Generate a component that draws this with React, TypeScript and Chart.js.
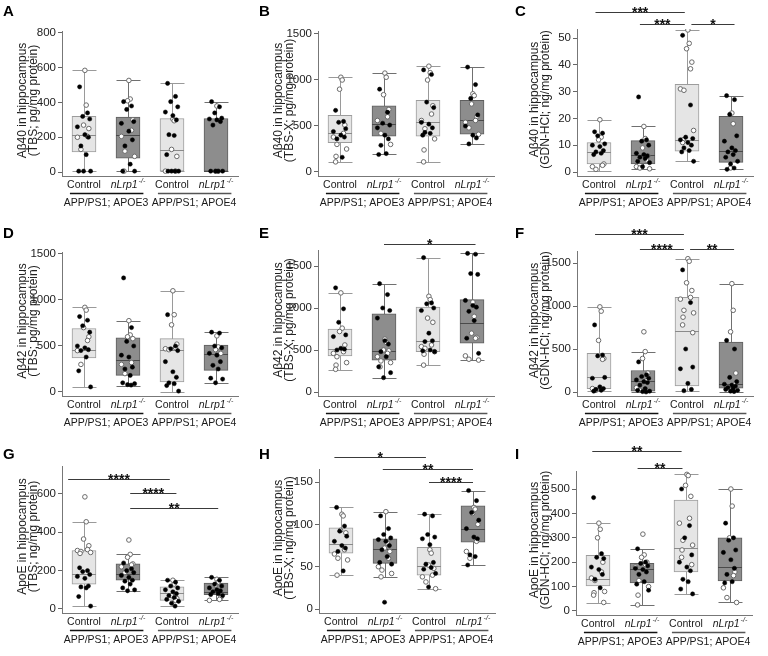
import React, { useEffect, useRef } from 'react';
import { Chart, registerables } from 'chart.js';
Chart.register(...registerables);

const FONT = '"Liberation Sans", Arial, Helvetica, sans-serif';
Chart.defaults.font.family = FONT;

// Categories
const GROUPS = ['Control', 'nLrp1', 'Control', 'nLrp1'];
const GENOTYPES = ['APP/PS1; APOE3', 'APP/PS1; APOE4'];

// Box stats per group: [min, q1, median, q3, max]
// ---------- Panel A ----------
const A_TICKS = [0, 200, 400, 600, 800];
const A_BOX = [[5, 115, 215, 320, 585], [5, 80, 213, 316, 527], [5, 5, 125, 308, 512], [5, 5, 8, 308, 405]];
const A_FILLED = [
  [490, 340, 320, 305, 260, 215, 200, 150, 100, 5, 5, 5],
  [405, 380, 360, 290, 280, 235, 185, 150, 45, 5, 5],
  [510, 435, 405, 375, 345, 325, 300, 215, 210, 100, 5, 5, 5, 5],
  [405, 375, 340, 310, 305, 300, 290, 270, 5, 5, 5, 5],
];
const A_OPEN = [
  [585, 385, 270, 250, 205, 200, 130],
  [527, 420, 410, 300, 240, 205, 120, 90, 5],
  [305, 295, 130, 90, 5, 5],
  [380, 5, 5],
];
const A_SIG: [number, number, number, string][] = [];

// ---------- Panel B ----------
const B_TICKS = [0, 500, 1000, 1500];
const B_BOX = [[110, 320, 420, 615, 1035], [195, 390, 520, 720, 1075], [110, 390, 545, 780, 1150], [305, 410, 560, 780, 1140]];
const B_FILLED = [
  [670, 550, 540, 470, 440, 400, 380, 360, 160],
  [900, 650, 530, 510, 480, 400, 360, 290, 200, 190],
  [1110, 1060, 760, 700, 540, 520, 480, 430, 420, 400],
  [1140, 950, 800, 620, 500, 400, 370, 305],
];
const B_OPEN = [
  [1030, 1000, 900, 510, 420, 380, 300, 250, 170, 110],
  [1075, 1030, 840, 680, 600, 560, 420, 300],
  [1150, 1080, 1000, 720, 630, 560, 470, 360, 240, 110],
  [850, 830, 740, 600, 560, 540, 480, 410],
];
const B_SIG: [number, number, number, string][] = [];

// ---------- Panel C ----------
const C_TICKS = [0, 10, 20, 30, 40, 50];
const C_BOX = [[0.5, 3, 7.5, 11, 19.5], [1, 3, 6.3, 11.7, 17], [4, 7.8, 12, 32.7, 53], [1, 3.6, 7.8, 20.8, 28.5]];
const C_FILLED = [
  [15, 14.5, 13.5, 10.5, 10, 9.5, 8, 7.5, 7, 6.5],
  [28, 12, 11.5, 10, 7, 6.5, 6, 5.5, 5, 4, 3.5, 2],
  [51, 25, 13, 12.5, 12, 11, 10, 9, 8, 7.5, 4],
  [28.5, 27, 21.5, 13.5, 11.5, 9, 8, 7.5, 6.5, 5.5, 4, 3, 1.5, 1],
];
const C_OPEN = [
  [19.5, 13, 12, 3, 2.5, 2, 1],
  [17, 12.5, 9, 6, 4.5, 2, 1.5, 1.2],
  [53, 48, 46, 41, 38.5, 31, 30.5, 15.5, 12, 11],
  [22, 18, 1.5],
];
const C_SIG: [number, number, number, string][] = [[-0.08, 1.95, 59.7, '***'], [0.93, 1.95, 55.2, '***'], [2.1, 3.08, 55.2, '*']];

// ---------- Panel D ----------
const D_TICKS = [0, 500, 1000, 1500];
const D_BOX = [[55, 370, 460, 690, 920], [70, 180, 350, 590, 775], [5, 110, 460, 580, 1100], [95, 235, 410, 510, 650]];
const D_FILLED = [
  [820, 780, 720, 650, 500, 480, 460, 450, 380, 230, 55],
  [1240, 700, 550, 500, 400, 380, 270, 250, 180, 100, 90, 80, 75],
  [840, 500, 470, 450, 330, 220, 160, 100, 90, 70, 10],
  [650, 640, 500, 480, 420, 400, 330, 290, 250, 150, 140, 100],
];
const D_OPEN = [
  [920, 890, 700, 600, 560, 450, 300],
  [775, 620, 600, 580, 320, 300, 200],
  [1100, 840, 730, 520, 480, 470, 460],
  [610, 490, 460, 420],
];
const D_SIG: [number, number, number, string][] = [];

// ---------- Panel E ----------
const E_TICKS = [0, 500, 1000, 1500];
const E_BOX = [[265, 430, 510, 750, 1180], [170, 380, 490, 930, 1290], [320, 480, 610, 1010, 1600], [380, 580, 820, 1100, 1650]];
const E_FILLED = [
  [1240, 990, 830, 680, 660, 520, 510, 500],
  [1290, 1160, 1000, 970, 880, 610, 570, 480, 420, 300, 230, 170],
  [1600, 1060, 1050, 1000, 970, 700, 610, 600, 500, 490, 480],
  [1650, 1640, 1410, 1400, 1090, 1030, 1010, 960, 850, 640, 460],
];
const E_OPEN = [
  [1180, 760, 720, 560, 480, 460, 420, 350, 320, 270],
  [630, 590, 500, 490, 460, 420, 370, 350, 300],
  [1140, 1100, 880, 830, 560, 540, 520, 480, 450, 320],
  [1070, 900, 700, 650, 640, 430, 390, 380],
];
const E_SIG: [number, number, number, string][] = [[1.0, 3.08, 1762, '*']];

// ---------- Panel F ----------
const F_TICKS = [0, 500, 1000, 1500];
const F_BOX = [[10, 40, 170, 450, 990], [0, 10, 125, 250, 470], [15, 70, 710, 1100, 1550], [5, 45, 90, 580, 1260]];
const F_FILLED = [
  [780, 430, 420, 170, 160, 60, 40, 30, 20, 10],
  [350, 200, 180, 160, 140, 120, 110, 80, 40, 20, 10, 5, 0],
  [1420, 1040, 500, 290, 270, 100, 30, 15],
  [600, 500, 170, 120, 90, 80, 70, 50, 40, 30, 20, 10, 5],
];
const F_OPEN = [
  [990, 940, 600, 390, 380, 40, 20],
  [700, 470, 390, 220, 130, 50, 20],
  [1550, 1520, 1270, 1180, 1100, 1080, 950, 920, 870, 780, 690],
  [1260, 950, 700, 220, 90],
];
const F_SIG: [number, number, number, string][] = [[-0.09, 1.93, 1837, '***'], [0.93, 1.93, 1663, '****'], [2.07, 3.07, 1663, '**']];

// ---------- Panel G ----------
const G_TICKS = [0, 200, 400, 600];
const G_BOX = [[15, 130, 185, 305, 455], [95, 150, 180, 235, 285], [15, 45, 85, 115, 150], [45, 75, 90, 135, 165]];
const G_FILLED = [
  [215, 200, 195, 180, 170, 160, 120, 115, 110, 65, 15],
  [240, 210, 200, 190, 175, 165, 150, 145, 130, 110, 100, 95],
  [150, 140, 120, 110, 100, 90, 80, 70, 60, 50, 40, 30, 15],
  [165, 150, 130, 120, 110, 100, 95, 90, 80, 75, 70],
];
const G_OPEN = [
  [585, 455, 365, 330, 310, 305, 300, 295, 290],
  [360, 285, 270, 235, 230, 220, 190],
  [150, 130, 70, 55, 45],
  [155, 140, 125, 60, 50, 45],
];
const G_SIG: [number, number, number, string][] = [[-0.36, 1.95, 678, '****'], [1.05, 2.1, 605, '****'], [1.05, 3.05, 527, '**']];

// ---------- Panel H ----------
const H_TICKS = [0, 50, 100, 150];
const H_BOX = [[40, 66, 77, 96, 120], [38, 54, 71, 83, 115], [24, 40, 51, 73, 112], [52, 79, 94, 122, 140]];
const H_FILLED = [
  [120, 98, 92, 86, 80, 75, 72, 68, 45],
  [110, 95, 88, 84, 82, 80, 75, 70, 62, 55, 53, 8],
  [112, 110, 88, 85, 83, 76, 55, 53, 49, 47, 42, 26],
  [140, 128, 114, 105, 95, 85, 83, 64, 62, 52],
];
const H_OPEN = [
  [112, 110, 93, 90, 70, 65, 60, 58, 40],
  [115, 78, 72, 68, 60, 50, 46, 42, 38],
  [70, 66, 52, 48, 40, 38, 32, 24],
  [120, 118, 113, 100, 80, 68, 60],
];
const H_SIG: [number, number, number, string][] = [[-0.15, 1.93, 179.5, '*'], [0.95, 3.0, 165.3, '**'], [2.0, 3.0, 150, '****']];

// ---------- Panel I ----------
const I_TICKS = [0, 100, 200, 300, 400, 500];
const I_BOX = [[33, 103, 130, 228, 360], [25, 115, 173, 195, 255], [70, 160, 260, 455, 560], [35, 123, 180, 300, 500]];
const I_FILLED = [
  [465, 235, 220, 215, 180, 170, 150, 130, 95],
  [255, 200, 195, 185, 175, 170, 160, 150, 120, 110, 85],
  [500, 350, 300, 230, 200, 180, 165, 130, 120, 90, 70],
  [360, 300, 290, 250, 240, 210, 175, 150, 120, 115],
];
const I_OPEN = [
  [360, 335, 300, 200, 160, 135, 125, 80, 75, 65, 35],
  [315, 230, 220, 200, 190, 180, 125, 100, 65, 25],
  [560, 555, 515, 470, 380, 360, 290, 270, 250, 220, 190],
  [500, 430, 300, 160, 145, 95, 55, 35],
];
const I_SIG: [number, number, number, string][] = [[-0.13, 1.9, 656, '**'], [0.9, 1.92, 586, '**']];

// Horizontal jitter offsets (category units) for the dots
const JITTER = [-0.1, 0.08, -0.03, 0.13, -0.15, 0.02, 0.1, -0.07, 0.05, -0.12, 0.15, -0.01, 0.07, -0.09, 0.11, -0.05];

// Layout
const ROWS = [{ top: 0, h: 222 }, { top: 222, h: 221 }, { top: 443, h: 213 }];
const PANEL_W = 256;
const AXIS_W = 176;

const PANELS = [
  { letter: 'A', row: 0, col: 0, title: ['Aβ40 in hippocampus', '(TBS; pg/mg protein)'], ticks: A_TICKS, box: A_BOX, filled: A_FILLED, open: A_OPEN, sig: A_SIG, axisX: 62, top: 31, bottom: 176, yMin: -23, yMax: 811.5 },
  { letter: 'B', row: 0, col: 1, title: ['Aβ40 in hippocampus', '(TBS-X; pg/mg protein)'], ticks: B_TICKS, box: B_BOX, filled: B_FILLED, open: B_OPEN, sig: B_SIG, axisX: 62, top: 31, bottom: 176, yMin: -43.5, yMax: 1532.6 },
  { letter: 'C', row: 0, col: 2, title: ['Aβ40 in hippocampus', '(GDN-HCl; ng/mg protein)'], ticks: C_TICKS, box: C_BOX, filled: C_FILLED, open: C_OPEN, sig: C_SIG, axisX: 65, top: 29, bottom: 176, yMin: -1.49, yMax: 53.36 },
  { letter: 'D', row: 1, col: 0, title: ['Aβ42 in hippocampus', '(TBS; pg/mg protein)'], ticks: D_TICKS, box: D_BOX, filled: D_FILLED, open: D_OPEN, sig: D_SIG, axisX: 62, top: 30, bottom: 174, yMin: -43.5, yMax: 1521.7 },
  { letter: 'E', row: 1, col: 1, title: ['Aβ42 in hippocampus', '(TBS-X; pg/mg protein)'], ticks: E_TICKS, box: E_BOX, filled: E_FILLED, open: E_OPEN, sig: E_SIG, axisX: 62, top: 28, bottom: 174, yMin: -47.6, yMax: 1690.5 },
  { letter: 'F', row: 1, col: 2, title: ['Aβ42 in hippocampus', '(GDN-HCl; ng/mg protein)'], ticks: F_TICKS, box: F_BOX, filled: F_FILLED, open: F_OPEN, sig: F_SIG, axisX: 65, top: 29, bottom: 174, yMin: -46.5, yMax: 1639.6 },
  { letter: 'G', row: 2, col: 0, title: ['ApoE in hippocampus', '(TBS; ng/mg protein)'], ticks: G_TICKS, box: G_BOX, filled: G_FILLED, open: G_OPEN, sig: G_SIG, axisX: 62, top: 23, bottom: 170, yMin: -20.9, yMax: 746 },
  { letter: 'H', row: 2, col: 1, title: ['ApoE in hippocampus', '(TBS-X; ng/mg protein)'], ticks: H_TICKS, box: H_BOX, filled: H_FILLED, open: H_OPEN, sig: H_SIG, axisX: 63, top: 26, bottom: 170, yMin: -4.7, yMax: 165.4 },
  { letter: 'I', row: 2, col: 2, title: ['ApoE in hippocampus', '(GDN-HCl; ng/mg protein)'], ticks: I_TICKS, box: I_BOX, filled: I_FILLED, open: I_OPEN, sig: I_SIG, axisX: 64, top: 28, bottom: 172, yMin: -16.4, yMax: 573.8 },
];

const LIGHT = { fill: '#e5e5e5', border: '#9c9c9c', median: '#8a8a8a', whisker: '#9a9a9a' };
const DARK = { fill: '#8d8d8d', border: '#5e5e5e', median: '#4a4a4a', whisker: '#707070' };
const BOX_W = 24;

function makeExtras(p: any) {
  return {
    id: 'boxExtras',
    beforeDatasetsDraw(chart: any) {
      const { ctx } = chart;
      const xs = chart.scales.x, ys = chart.scales.y;
      ctx.save();
      p.box.forEach((b: number[], i: number) => {
        const cx = Math.round(xs.getPixelForValue(i)) + 0.5;
        const st = i % 2 ? DARK : LIGHT;
        ctx.strokeStyle = st.whisker;
        ctx.lineWidth = 1;
        const yMin = Math.round(ys.getPixelForValue(b[0])) + 0.5;
        const yMax = Math.round(ys.getPixelForValue(b[4])) + 0.5;
        ctx.beginPath();
        ctx.moveTo(cx, yMin); ctx.lineTo(cx, yMax);
        ctx.moveTo(cx - BOX_W / 2, yMin); ctx.lineTo(cx + BOX_W / 2, yMin);
        ctx.moveTo(cx - BOX_W / 2, yMax); ctx.lineTo(cx + BOX_W / 2, yMax);
        ctx.stroke();
      });
      ctx.restore();
    },
    afterDatasetDraw(chart: any, args: any) {
      if (args.meta.type !== 'bar') return;
      const { ctx } = chart;
      const xs = chart.scales.x, ys = chart.scales.y;
      ctx.save();
      p.box.forEach((b: number[], i: number) => {
        const cx = xs.getPixelForValue(i);
        const st = i % 2 ? DARK : LIGHT;
        const ym = Math.round(ys.getPixelForValue(b[2])) + 0.5;
        ctx.strokeStyle = st.median;
        ctx.lineWidth = 1;
        ctx.beginPath();
        ctx.moveTo(cx - BOX_W / 2, ym); ctx.lineTo(cx + BOX_W / 2, ym);
        ctx.stroke();
      });
      ctx.restore();
    },
    afterDraw(chart: any) {
      const { ctx, chartArea } = chart;
      const xs = chart.scales.x, ys = chart.scales.y;
      const bottom = chartArea.bottom;
      ctx.save();
      // y-axis title (two lines, rotated)
      ctx.fillStyle = '#222';
      ctx.font = `12px ${FONT}`;
      ctx.textAlign = 'center';
      ctx.textBaseline = 'middle';
      const midY = (chartArea.top + chartArea.bottom) / 2 - 3;
      p.title.forEach((t: string, k: number) => {
        ctx.save();
        ctx.translate(23 + k * 11, midY);
        ctx.rotate(-Math.PI / 2);
        ctx.fillText(t, 0, 0);
        ctx.restore();
      });
      ctx.fillStyle = '#1a1a1a';
      // category labels
      GROUPS.forEach((g, i) => {
        const cx = xs.getPixelForValue(i);
        const y = bottom + 9;
        if (i % 2 === 0) {
          ctx.font = `10.5px ${FONT}`;
          ctx.textAlign = 'center';
          ctx.fillText(g, cx, y);
        } else {
          ctx.font = `italic 10.5px ${FONT}`;
          const w1 = ctx.measureText(g).width;
          ctx.font = `italic 7px ${FONT}`;
          const sup = '-/-';
          const w2 = ctx.measureText(sup).width;
          const x0 = cx - (w1 + w2 + 1) / 2;
          ctx.textAlign = 'left';
          ctx.font = `italic 10.5px ${FONT}`;
          ctx.fillText(g, x0, y);
          ctx.font = `italic 7px ${FONT}`;
          ctx.fillText(sup, x0 + w1 + 1, y - 4);
        }
      });
      // genotype underlines and labels
      GENOTYPES.forEach((g, k) => {
        const x1 = xs.getPixelForValue(k * 2 - 0.32);
        const x2 = xs.getPixelForValue(k * 2 + 1.35);
        const ly = bottom + 17.5;
        ctx.strokeStyle = k === 0 ? '#111' : '#555';
        ctx.lineWidth = 1.3;
        ctx.beginPath(); ctx.moveTo(x1, ly); ctx.lineTo(x2, ly); ctx.stroke();
        ctx.font = `10.5px ${FONT}`;
        ctx.textAlign = 'center';
        ctx.fillStyle = '#1a1a1a';
        ctx.fillText(g, xs.getPixelForValue(k * 2 + 0.5), bottom + 27);
      });
      // significance brackets
      p.sig.forEach((s: [number, number, number, string]) => {
        const x1 = xs.getPixelForValue(s[0]);
        const x2 = xs.getPixelForValue(s[1]);
        const y = Math.round(ys.getPixelForValue(s[2])) + 0.5;
        ctx.strokeStyle = '#3a3a3a';
        ctx.lineWidth = 1.2;
        ctx.beginPath(); ctx.moveTo(x1, y); ctx.lineTo(x2, y); ctx.stroke();
        ctx.font = `bold 14px ${FONT}`;
        ctx.textAlign = 'center';
        ctx.textBaseline = 'alphabetic';
        ctx.fillStyle = '#111';
        ctx.fillText(s[3], (x1 + x2) / 2, y + 4);
        ctx.textBaseline = 'middle';
      });
      ctx.restore();
    },
  };
}

function Panel({ p }: { p: any }) {
  const ref = useRef<HTMLCanvasElement | null>(null);
  const row = ROWS[p.row];
  useEffect(() => {
    if (!ref.current) return;
    const filledPts: any[] = [];
    const openPts: any[] = [];
    p.filled.forEach((arr: number[], i: number) =>
      arr.forEach((v, k) => filledPts.push({ x: i + JITTER[k % JITTER.length], y: v })));
    p.open.forEach((arr: number[], i: number) =>
      arr.forEach((v, k) => openPts.push({ x: i + JITTER[(k * 3 + 5) % JITTER.length], y: v })));
    const chart = new Chart(ref.current, {
      type: 'bar',
      data: {
        datasets: [
          { type: 'scatter', data: filledPts, pointRadius: 2.1, pointBackgroundColor: '#000', pointBorderColor: '#000', pointBorderWidth: 0.5, order: 0 } as any,
          { type: 'scatter', data: openPts, pointRadius: 2.3, pointBackgroundColor: '#fff', pointBorderColor: '#6a6a6a', pointBorderWidth: 1, order: 1 } as any,
          {
            type: 'bar',
            data: p.box.map((b: number[], i: number) => ({ x: i, y: [b[1], b[3]] })),
            backgroundColor: p.box.map((_: any, i: number) => (i % 2 ? DARK.fill : LIGHT.fill)),
            borderColor: p.box.map((_: any, i: number) => (i % 2 ? DARK.border : LIGHT.border)),
            borderWidth: 1,
            borderSkipped: false,
            barThickness: BOX_W,
            order: 2,
          } as any,
        ],
      },
      options: {
        animation: false,
        responsive: false,
        events: [],
        layout: { padding: { left: 0, top: p.top, right: PANEL_W - p.axisX - AXIS_W, bottom: row.h - p.bottom } },
        plugins: { legend: { display: false }, tooltip: { enabled: false } },
        scales: {
          x: {
            type: 'linear', min: -0.5, max: 3.5, offset: false,
            ticks: { display: false },
            grid: { display: false, offset: false },
            border: { display: true, color: '#777', width: 1 },
            afterFit: (s: any) => { s.height = 0; },
          },
          y: {
            type: 'linear', min: p.yMin, max: p.yMax,
            afterBuildTicks: (s: any) => { s.ticks = p.ticks.map((v: number) => ({ value: v })); },
            ticks: { callback: (v: any) => String(v), font: { size: 11.5 }, color: '#222', padding: 2 },
            grid: { drawOnChartArea: false, drawTicks: true, tickLength: 4, tickColor: '#666', color: '#666' },
            border: { display: true, color: '#777', width: 1 },
            title: { display: false },
            afterFit: (s: any) => { s.width = p.axisX; },
          },
        },
      } as any,
      plugins: [makeExtras(p)],
    });
    return () => chart.destroy();
  }, []);
  return (
    <div style={{ position: 'absolute', left: p.col * PANEL_W, top: row.top, width: PANEL_W, height: row.h }}>
      <canvas ref={ref} width={PANEL_W} height={row.h} style={{ display: 'block' }} />
      <div style={{ position: 'absolute', left: 3, top: 3, font: `bold 15px ${FONT}`, lineHeight: '15px', color: '#000' }}>{p.letter}</div>
    </div>
  );
}

export default function App() {
  useEffect(() => {
    document.body.style.margin = '0';
    document.body.style.background = '#fff';
  }, []);
  return (
    <div style={{ position: 'relative', width: 768, height: 656, background: '#fff', overflow: 'hidden' }}>
      {PANELS.map((p) => <Panel key={p.letter} p={p} />)}
    </div>
  );
}
